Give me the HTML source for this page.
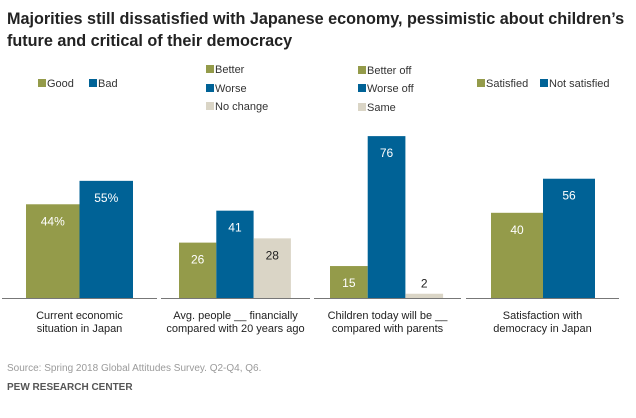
<!DOCTYPE html>
<html><head><meta charset="utf-8"><style>
body{margin:0;background:#fff;font-family:"Liberation Sans",Arial,sans-serif;}
svg text{font-family:"Liberation Sans",Arial,sans-serif;}
</style></head><body>
<svg id="c" width="636" height="413">
<text x="7" y="24" font-size="16.2" font-weight="bold" fill="#222">Majorities still dissatisfied with Japanese economy, pessimistic about children’s</text>
<text x="7" y="46" font-size="16.2" font-weight="bold" fill="#222">future and critical of their democracy</text>
<text x="7" y="371" font-size="10" fill="#9a9a9a">Source: Spring 2018 Global Attitudes Survey. Q2-Q4, Q6.</text>
<text x="7" y="390" font-size="10" font-weight="bold" fill="#555">PEW RESEARCH CENTER</text>
<g id="g"></g>
</svg>
<script>
const panelLabels=[["Current economic","situation in Japan"],["Avg. people __ financially","compared with 20 years ago"],["Children today will be __","compared with parents"],["Satisfaction with","democracy in Japan"]];
const seriesNames=[["Good","Bad"],["Better","Worse","No change"],["Better off","Worse off","Same"],["Satisfied","Not satisfied"]];
const values=[[44,55],[26,41,28],[15,76,2],[40,56]];
const valueLabels=[["44%","55%"],["26","41","28"],["15","76","2"],["40","56"]];
const colors=["#949b4a","#006296","#dad5c6"];
const ns="http://www.w3.org/2000/svg",g=document.getElementById("g");
const base=298,scale=2.13;
function y(v){return base-v*scale;}
const layout=[{x0:2,x1:157,bx:26,bw:53.5,leg:"row",lx:[38,89],ly:87},
{x0:161,x1:310,bx:179,bw:37.3,leg:"col",lx:206,ly:[73,92,110]},
{x0:314,x1:461,bx:330,bw:37.7,leg:"col",lx:358,ly:[74,92,111]},
{x0:466,x1:619,bx:491,bw:52,leg:"row",lx:[477,540],ly:87}];
function el(t,a,txt){const e=document.createElementNS(ns,t);for(const k in a)e.setAttribute(k,a[k]);if(txt!==undefined)e.textContent=txt;g.appendChild(e);return e;}
values.forEach((vals,p)=>{
const L=layout[p];
const ln=el("line",{x1:L.x0,x2:L.x1,y1:base+0.5,y2:base+0.5,stroke:"#777","stroke-width":1});


vals.forEach((v,i)=>{
const x=L.bx+i*L.bw;
const r=el("rect",{x:x,y:y(v),width:L.bw,height:v*scale,fill:colors[i]});


const inside=v*scale>25;
const t=el("text",{x:x+L.bw/2,y:inside?y(v)+21:y(v)-6,"text-anchor":"middle","font-size":12,fill:(inside&&i<2)?"#fff":"#222"},valueLabels[p][i]);


let sx,sy;
if(L.leg==="row"){sx=L.lx[i];sy=L.ly;}else{sx=L.lx;sy=L.ly[i];}
const s=el("rect",{x:sx,y:sy-8,width:8,height:8,fill:colors[i]});


const lt=el("text",{x:sx+9,y:sy,"font-size":11,fill:"#333"},seriesNames[p][i]);


});
panelLabels[p].forEach((s,k)=>{
const t=el("text",{x:(L.x0+L.x1)/2,y:319+k*13,"text-anchor":"middle","font-size":11,fill:"#222"},s);


});
});
</script>
</body></html>
